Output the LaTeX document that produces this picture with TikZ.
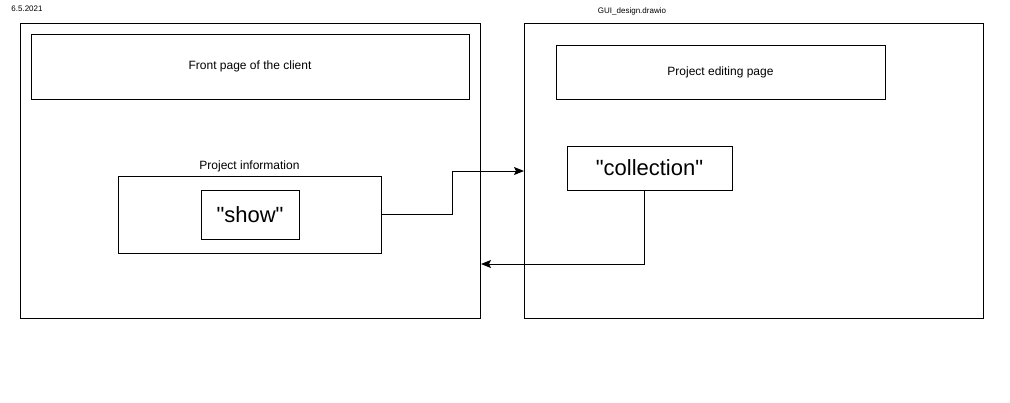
\documentclass[tikz,border=0pt]{standalone}
\usepackage{fontspec}
\setmainfont{Liberation Sans}[Ligatures=TeXOff]
\usetikzlibrary{arrows.meta}
\begin{document}
\begin{tikzpicture}[x=1pt, y=-1pt, line width=1pt]
% define node styles
\tikzstyle{every node} = [inner sep=0pt, font=\fontsize{12}{14}\selectfont]
\tikzstyle{page}       = [draw, rectangle]
\tikzstyle{big}        = [draw, rectangle, font=\fontsize{22}{26}\selectfont]
\tikzstyle{small}      = [font=\fontsize{8}{10}\selectfont]
\tikzstyle{arrow}      = [-{Stealth[length=10pt, width=8pt, inset=2pt]}]

\useasboundingbox (0,0) rectangle (1010,402);

% header texts
\node [small] (date) at (27,9) {6.5.2021};
\node [small] (file) at (632,11) {GUI\_design.drawio};

% pages
\foreach \n/\x/\y/\w/\h in {left/250/170.5/460/295, right/753.5/170.5/459/295}
    \node [page, minimum width=\w, minimum height=\h] (\n) at (\x,\y) {};

% boxes with text
\node [page, minimum width=438, minimum height=65] (front) at (250,66.5) {Front page of the client};
\node [page, minimum width=329, minimum height=54] (edit) at (720.5,72) {Project editing page};
\node [page, minimum width=263, minimum height=77,
       label={[yshift=3pt]above:Project information}] (info) at (249.5,214.5) {};
\node [big, minimum width=98, minimum height=49] (show) at (250,214.5) {"show"};
\node [big, minimum width=165, minimum height=44] (coll) at (649.5,168) {"collection"};

% edges
\coordinate (tin)  at (524,171);
\coordinate (tout) at (481,264);
\draw [arrow] (info.east) -- ++(71,0) |- (tin);
\draw [arrow] ([xshift=-5.5pt]coll.south) |- (tout);

\end{tikzpicture}
\end{document}
